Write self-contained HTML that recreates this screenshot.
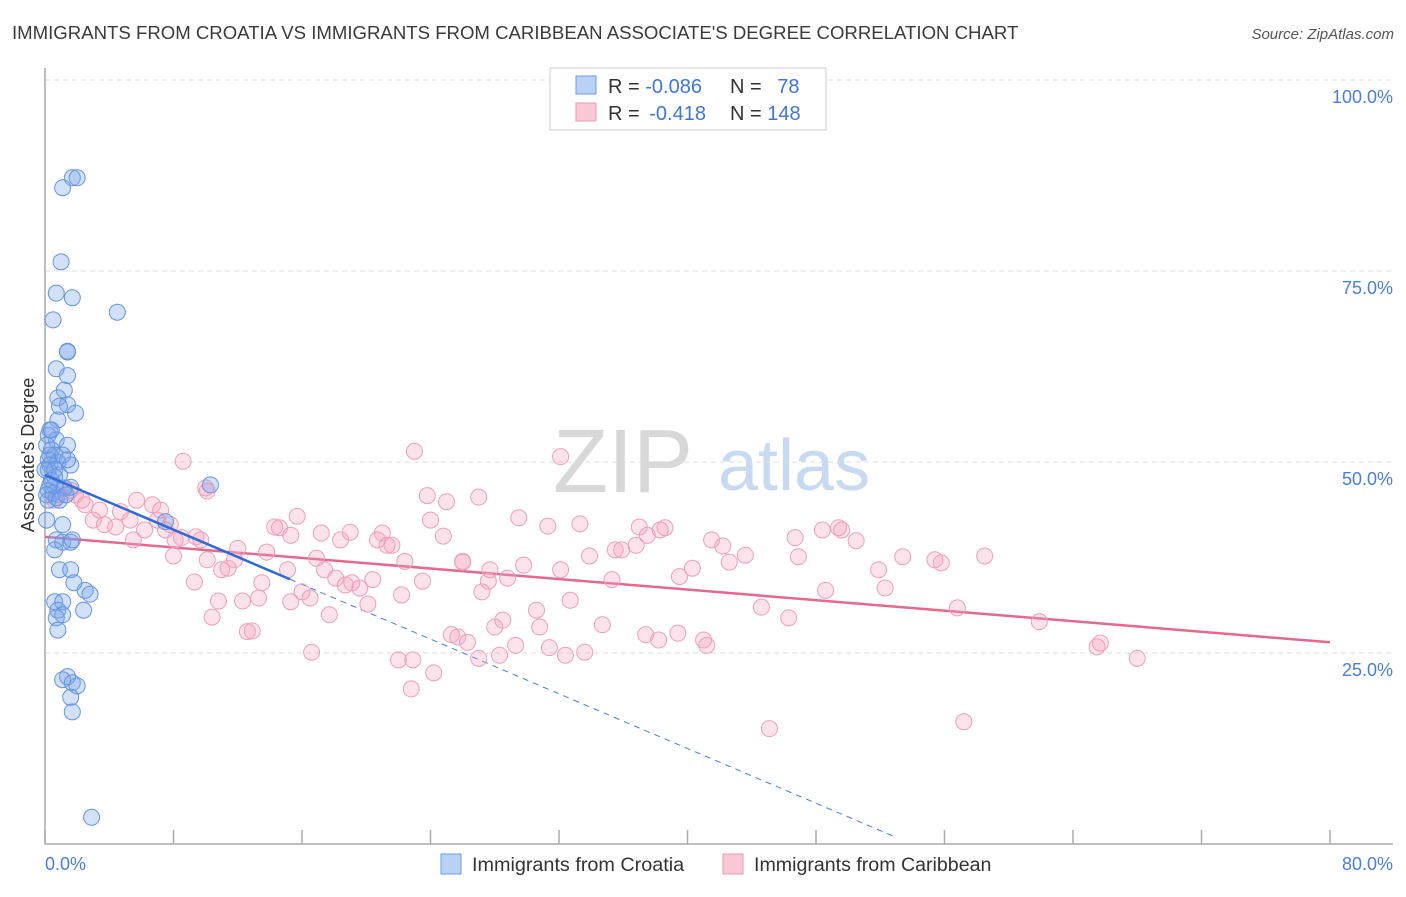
<!DOCTYPE html>
<html><head><meta charset="utf-8"><style>
body{margin:0;background:#fff;font-family:"Liberation Sans",sans-serif;}
svg text{font-family:"Liberation Sans",sans-serif;}
</style></head><body>
<svg id="chart" width="1406" height="892" viewBox="0 0 1406 892" xmlns="http://www.w3.org/2000/svg">
<text x="12" y="39" font-size="18.6" fill="#3a3a3a">IMMIGRANTS FROM CROATIA VS IMMIGRANTS FROM CARIBBEAN ASSOCIATE'S DEGREE CORRELATION CHART</text>
<text x="1394" y="39" font-size="15" fill="#555" font-style="italic" text-anchor="end">Source: ZipAtlas.com</text>
<g>
<text x="553" y="492" font-size="90" fill="#d8d8d8" font-family="Liberation Serif, serif">ZIP</text>
<text x="718" y="490" font-size="72" fill="#c7daf2">atlas</text>
</g>
<g id="grid"></g>
<g id="axes"></g>
<g id="lines"></g>
<g id="points"></g>
<text transform="translate(34,455) rotate(-90)" font-size="18" fill="#333" text-anchor="middle">Associate's Degree</text>
<g>
<rect x="550" y="68" width="276" height="62" fill="#fff" stroke="#ccc"/>
<rect x="576" y="76" width="20" height="18" fill="#b9d1f5" stroke="#6c9ae6"/>
<rect x="576" y="103" width="20" height="18" fill="#f9c7d6" stroke="#ec9ab5"/>
<text x="608" y="93" font-size="20" fill="#333">R = <tspan fill="#3f76d6">-0.086</tspan></text>
<text x="730" y="93" font-size="20" fill="#333">N = <tspan fill="#3f76d6" dx="10">78</tspan></text>
<text x="608" y="120" font-size="20" fill="#333">R = <tspan fill="#3f76d6" dx="4">-0.418</tspan></text>
<text x="730" y="120" font-size="20" fill="#333">N = <tspan fill="#3f76d6">148</tspan></text>
</g>
<g>
<rect x="441" y="854" width="20" height="20" fill="#b9d1f5" stroke="#6c9ae6"/>
<text x="472" y="871" font-size="19.8" fill="#333">Immigrants from Croatia</text>
<rect x="723" y="854" width="20" height="20" fill="#f9c7d6" stroke="#ec9ab5"/>
<text x="754" y="871" font-size="19.6" fill="#333">Immigrants from Caribbean</text>
</g>
</svg>
<script>
const blueX=[1.1,1.7,2.0,1.0,0.7,1.7,4.5,0.5,1.4,1.4,0.7,1.4,1.2,0.8,1.4,0.9,1.9,0.8,0.3,0.2,0.7,1.4,0.4,0.6,0.2,1.6,0.3,0.8,0.2,0.9,0.4,0.6,1.6,0.2,10.3,7.5,1.1,0.7,1.1,1.6,0.6,0.9,1.6,1.8,2.5,2.8,0.6,1.1,0.8,2.4,1.1,0.7,0.8,1.4,1.1,1.7,2.0,1.6,1.7,2.9,0.6,0.3,0.5,0.1,1.2,0.7,0.3,0.1,0.2,1.7,0.9,0.1,0.0,0.4,1.4,0.6,1.1,1.3];
const blueY=[85.9,87.2,87.2,76.2,72.1,71.5,69.6,68.6,64.4,64.5,62.2,61.3,59.4,58.4,57.5,57.3,56.4,55.5,54.2,53.5,52.9,52.2,51.6,50.9,50.3,49.6,49.6,50.0,49.0,48.3,47.6,46.9,46.7,46.3,47.0,42.2,41.8,39.8,39.5,39.5,38.5,35.9,35.9,34.2,33.2,32.7,31.7,31.7,30.6,30.6,30.0,29.6,28.0,21.9,21.5,21.1,20.7,19.2,17.3,3.5,48.0,47.0,45.9,45.7,46.6,45.3,50.9,52.2,45.0,39.8,45.0,42.4,49.0,54.2,50.3,49.0,50.9,45.7];
const pinkX=[8.6,23.0,32.1,10.0,10.1,23.8,25.0,27.0,1.2,1.6,0.6,0.9,1.9,2.3,2.5,3.4,3.0,3.7,4.7,4.4,5.3,5.7,5.5,6.2,6.7,7.2,7.0,7.8,8.1,7.5,8.5,9.4,9.7,8.0,9.3,10.1,10.4,10.8,11.0,11.4,11.8,12.0,12.3,12.6,12.9,13.3,13.5,13.8,14.3,14.6,15.3,15.7,15.1,15.3,16.0,16.5,16.6,16.9,17.2,17.7,17.4,18.1,18.4,19.0,18.7,19.1,19.6,20.1,20.4,20.7,21.0,21.3,21.6,22.0,22.2,22.4,22.8,23.5,24.0,24.2,24.8,25.3,25.7,26.0,26.0,26.3,27.0,27.2,27.6,27.7,28.0,28.3,28.5,28.8,29.3,29.5,29.8,30.6,30.8,31.3,31.4,32.1,32.4,32.7,33.3,33.6,33.9,34.7,35.3,35.5,35.9,36.8,37.0,37.4,37.5,38.3,38.2,38.6,39.5,39.4,40.3,41.0,41.2,41.5,42.2,42.6,43.6,44.6,45.1,46.3,46.7,46.9,48.4,48.6,49.4,49.6,50.5,51.9,52.3,53.4,55.4,55.8,56.8,57.2,58.5,61.9,65.5,65.7,68.0,22.9];
const pinkY=[50.1,51.4,50.7,46.6,46.2,45.6,44.8,45.4,46.6,46.3,45.0,45.7,45.7,45.0,44.4,43.7,42.4,41.8,43.5,41.5,42.4,45.0,39.8,41.1,44.4,43.7,42.4,41.8,39.8,41.1,40.1,40.2,39.8,37.7,34.3,37.2,29.7,31.8,35.9,36.1,37.2,38.7,31.8,27.8,27.9,32.2,34.2,38.2,41.5,41.4,40.4,42.9,35.9,31.7,33.0,32.2,25.1,37.4,40.7,30.0,35.9,34.8,39.8,40.8,33.9,34.2,33.5,31.4,34.6,39.8,40.7,39.1,39.1,24.1,32.6,37.0,20.3,34.4,42.4,22.4,40.3,27.4,27.1,37.0,36.9,26.4,24.3,33.0,34.4,35.9,28.4,24.7,29.3,34.8,26.0,42.7,36.5,30.6,28.4,41.6,25.7,35.9,24.7,31.9,41.9,25.1,37.7,28.7,34.6,38.5,38.5,39.1,41.5,27.4,40.4,41.1,26.7,41.4,35.0,27.6,36.1,26.7,26.0,39.8,39.0,36.9,37.8,31.0,15.1,29.6,40.1,37.6,41.1,33.2,41.4,41.1,39.7,35.9,33.5,37.6,37.2,36.8,30.9,16.0,37.7,29.1,25.8,26.3,24.3,24.1];
const yTicks=[25,50,75,100];
const yTickLabels=["25.0%","50.0%","75.0%","100.0%"];
const xTicks=[0,8,16,24,32,40,48,56,64,72,80];
const blueTrend=[48.3,-0.895]; // intercept, slope
const blueSolidEnd=15.25;
const blueDashEnd=53;
const pinkTrend=[40.2,-0.1725];
const pinkEnd=80;

const NS="http://www.w3.org/2000/svg";
const X0=45,X1=1330,Y0=844,Y100=80;
const sx=v=>X0+(X1-X0)*v/80;
const sy=v=>Y0-(Y0-Y100)*v/100;
function mk(tag,attrs,parent){const e=document.createElementNS(NS,tag);for(const k in attrs)e.setAttribute(k,attrs[k]);parent.appendChild(e);return e;}
const grid=document.getElementById('grid'),axes=document.getElementById('axes'),lines=document.getElementById('lines'),pts=document.getElementById('points');
yTicks.forEach((t,i)=>{
  const l=mk('line',{x1:X0,x2:1393,y1:sy(t),y2:sy(t),stroke:'#ddd','stroke-dasharray':'5,4'},grid);
  
  
  const tx=mk('text',{x:1393,y:sy(t)+23,'font-size':18,fill:'#4a7fd8','text-anchor':'end'},axes);
  tx.textContent=yTickLabels[i];
  
  
});
const ax=mk('line',{x1:X0,x2:X0,y1:68,y2:Y0,stroke:'#aaa','stroke-width':1.5},axes);


const bx=mk('line',{x1:X0,x2:1393,y1:Y0,y2:Y0,stroke:'#aaa','stroke-width':1.5},axes);


xTicks.forEach(t=>{
  const l=mk('line',{x1:sx(t),x2:sx(t),y1:Y0,y2:Y0-14,stroke:'#aaa','stroke-width':1.5},axes);
  
  
});
const xl0=mk('text',{x:45,y:870,'font-size':18,fill:'#4a7fd8'},axes);xl0.textContent=xTicks[0].toFixed(1)+'%';


const xl1=mk('text',{x:1393,y:870,'font-size':18,fill:'#4a7fd8','text-anchor':'end'},axes);xl1.textContent=xTicks[xTicks.length-1].toFixed(1)+'%';



pinkX.forEach((x,i)=>{
  const c=mk('circle',{cx:sx(x),cy:sy(pinkY[i]),r:8,fill:'rgba(244,160,188,0.3)',stroke:'#ee9fba','stroke-width':1},pts);
  
  
});
blueX.forEach((x,i)=>{
  const c=mk('circle',{cx:sx(x),cy:sy(blueY[i]),r:8,fill:'rgba(120,165,235,0.33)',stroke:'#6494e2','stroke-width':1},pts);
  
  
});
const f=(t,x)=>t[0]+t[1]*x;
const pl=mk('line',{x1:sx(0),y1:sy(f(pinkTrend,0)),x2:sx(pinkEnd),y2:sy(f(pinkTrend,pinkEnd)),stroke:'#e5688f','stroke-width':2.5},lines);


const bd=mk('line',{x1:sx(blueSolidEnd),y1:sy(f(blueTrend,blueSolidEnd)),x2:sx(blueDashEnd),y2:sy(f(blueTrend,blueDashEnd)),stroke:'#4a7fd8','stroke-width':1,'stroke-dasharray':'6,5'},lines);


const bl=mk('line',{x1:sx(0),y1:sy(f(blueTrend,0)),x2:sx(blueSolidEnd),y2:sy(f(blueTrend,blueSolidEnd)),stroke:'#2f6ad6','stroke-width':2.5},pts);


</script>
</body></html>
